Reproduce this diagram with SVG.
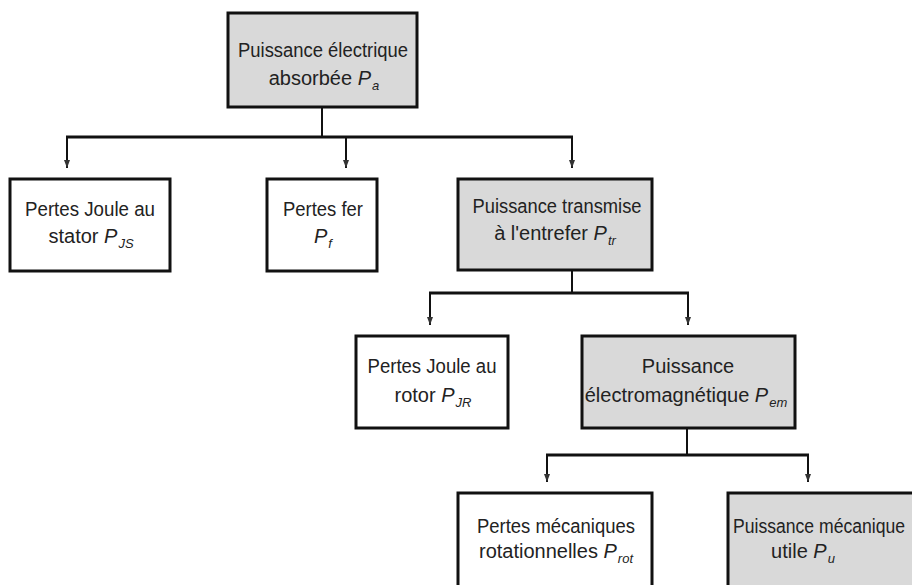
<svg xmlns="http://www.w3.org/2000/svg" width="912" height="585" viewBox="0 0 912 585">
<style>
.box{stroke:#111;stroke-width:3}
.w{fill:#fff}
.g{fill:#d9d9d9}
text{font-family:"Liberation Sans",Arial,sans-serif;font-size:20px;fill:#222;text-anchor:middle}
.i{font-style:italic}
.s{font-size:13px;font-style:italic}
.c{stroke:#111;fill:none}
.h{stroke-width:3}
.v{stroke-width:2}
</style>
<defs>
<marker id="a" markerWidth="8" markerHeight="6" refX="8" refY="3" orient="auto" markerUnits="userSpaceOnUse" viewBox="0 0 8 6">
<path d="M0,0 L8,3 L0,6 Z" fill="#333"/>
</marker>
</defs>
<rect width="912" height="585" fill="#fff"/>
<g id="connectors">
<path class="c v" d="M322,108 V137"/>
<path class="c h" d="M66,137 H573"/>
<path class="c v" d="M67,137 V168" marker-end="url(#a)"/>
<path class="c v" d="M346,137 V168" marker-end="url(#a)"/>
<path class="c v" d="M572,137 V168" marker-end="url(#a)"/>
<path class="c v" d="M572,271 V293"/>
<path class="c h" d="M429,293 H689"/>
<path class="c v" d="M430,293 V325" marker-end="url(#a)"/>
<path class="c v" d="M688,293 V325" marker-end="url(#a)"/>
<path class="c v" d="M687,429 V455"/>
<path class="c h" d="M546,455 H809"/>
<path class="c v" d="M547,455 V482" marker-end="url(#a)"/>
<path class="c v" d="M808,455 V482" marker-end="url(#a)"/>
</g>
<g id="n1">
<rect class="box g" x="228" y="13" width="189" height="94"/>
<text x="323" y="57" textLength="170" lengthAdjust="spacingAndGlyphs">Puissance électrique</text>
<text x="324" y="85">absorbée <tspan class="i">P</tspan><tspan class="s" dx="1" dy="5">a</tspan></text>
</g>
<g id="n2">
<rect class="box w" x="10" y="179" width="160" height="92"/>
<text x="90" y="216" textLength="130" lengthAdjust="spacingAndGlyphs">Pertes Joule au</text>
<text x="91" y="243">stator <tspan class="i">P</tspan><tspan class="s" dx="1" dy="5">JS</tspan></text>
</g>
<g id="n3">
<rect class="box w" x="267" y="179" width="110" height="92"/>
<text x="323" y="216" textLength="80" lengthAdjust="spacingAndGlyphs">Pertes fer</text>
<text x="323" y="243"><tspan class="i">P</tspan><tspan class="s" dx="1" dy="5">f</tspan></text>
</g>
<g id="n4">
<rect class="box g" x="458" y="179" width="194" height="91"/>
<text x="557" y="213" textLength="169" lengthAdjust="spacingAndGlyphs">Puissance transmise</text>
<text x="555" y="240">à l'entrefer <tspan class="i">P</tspan><tspan class="s" dx="1" dy="5">tr</tspan></text>
</g>
<g id="n5">
<rect class="box w" x="356" y="336" width="152" height="92"/>
<text x="432" y="373" textLength="129" lengthAdjust="spacingAndGlyphs">Pertes Joule au</text>
<text x="433" y="402">rotor <tspan class="i">P</tspan><tspan class="s" dx="1" dy="5">JR</tspan></text>
</g>
<g id="n6">
<rect class="box g" x="582" y="336" width="213" height="92"/>
<text x="688" y="373">Puissance</text>
<text x="686" y="402">électromagnétique <tspan class="i">P</tspan><tspan class="s" dx="1" dy="5">em</tspan></text>
</g>
<g id="n7">
<rect class="box w" x="458" y="493" width="194" height="110"/>
<text x="556" y="533" textLength="158" lengthAdjust="spacingAndGlyphs">Pertes mécaniques</text>
<text x="556" y="558">rotationnelles <tspan class="i">P</tspan><tspan class="s" dx="1" dy="5">rot</tspan></text>
</g>
<g id="n8">
<rect class="box g" x="728" y="493" width="200" height="110"/>
<text x="819" y="533" textLength="172" lengthAdjust="spacingAndGlyphs">Puissance mécanique</text>
<text x="803" y="558">utile <tspan class="i">P</tspan><tspan class="s" dx="1" dy="5">u</tspan></text>
</g>
</svg>
